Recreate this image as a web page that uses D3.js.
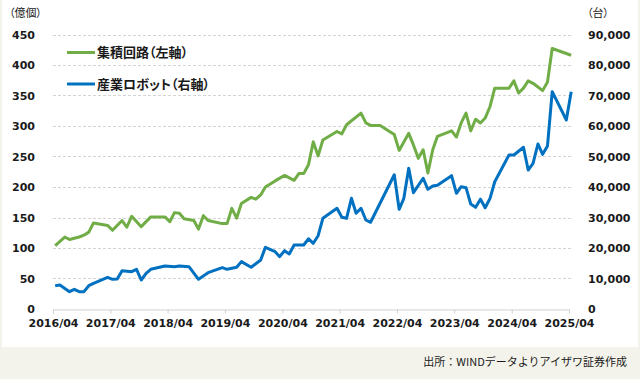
<!DOCTYPE html>
<html>
<head>
<meta charset="utf-8">
<script src="https://cdn.jsdelivr.net/npm/d3@7/dist/d3.min.js"></script>
<style>
    body { margin: 0; background: #f3f3eb; }
    svg { display: block; }
    text { fill: #1a1a1a; }
    .num { font-family: "DejaVu Sans", Verdana, sans-serif; font-weight: bold; font-size: 11px; }
    .jp { font-family: "Noto Sans CJK JP", sans-serif; font-feature-settings: "palt"; }
    .src { font-family: "Noto Sans CJK JP", sans-serif; }
</style>
</head>
<body>
<svg id="chart"></svg>
<script>

// 集積回路 (億個, left axis)
const icDates = ["2016-04", "2016-06", "2016-07", "2016-09", "2016-10", "2016-11", "2016-12",
    "2017-03", "2017-04", "2017-06", "2017-07", "2017-08", "2017-10", "2017-12",
    "2018-03", "2018-04", "2018-05", "2018-06", "2018-07", "2018-09", "2018-10", "2018-11", "2018-12",
    "2019-03", "2019-04", "2019-05", "2019-06", "2019-07", "2019-09", "2019-10", "2019-11", "2019-12",
    "2020-02", "2020-04", "2020-06", "2020-07", "2020-08", "2020-09", "2020-10", "2020-11", "2020-12",
    "2021-03", "2021-04", "2021-05", "2021-08", "2021-09", "2021-10", "2021-12",
    "2022-03", "2022-04", "2022-06", "2022-07", "2022-08", "2022-09", "2022-10", "2022-11", "2022-12",
    "2023-03", "2023-04", "2023-05", "2023-06", "2023-07", "2023-08", "2023-09", "2023-10", "2023-11", "2023-12",
    "2024-03", "2024-04", "2024-05", "2024-06", "2024-07", "2024-08", "2024-10", "2024-11", "2024-12",
    "2025-04"];
const icValues = [104, 118, 114, 118, 121, 126, 141,
    137, 129, 145, 134, 152, 135, 151,
    151, 143, 158, 157, 148, 145, 131, 153, 145,
    140, 140, 165, 149, 173, 183, 180, 187, 200,
    210, 219, 211, 222, 222, 237, 274, 251, 277,
    291, 287, 302, 321, 305, 301, 301,
    286, 260, 288, 269, 247, 261, 223, 261, 283,
    292, 282, 305, 321, 292, 311, 305, 313, 332, 362,
    362, 374, 354, 362, 374, 370, 358, 372, 427,
    416];

// 産業ロボット (台, right axis)
const robotDates = ["2016-04", "2016-05", "2016-07", "2016-08", "2016-09", "2016-10", "2016-11", "2016-12",
    "2017-03", "2017-04", "2017-05", "2017-06", "2017-08", "2017-09", "2017-10", "2017-11", "2017-12",
    "2018-03", "2018-05", "2018-06", "2018-08", "2018-10", "2018-12",
    "2019-03", "2019-04", "2019-06", "2019-07", "2019-09", "2019-11", "2019-12",
    "2020-02", "2020-03", "2020-04", "2020-05", "2020-06", "2020-08", "2020-09", "2020-10", "2020-11", "2020-12",
    "2021-03", "2021-04", "2021-05", "2021-06", "2021-07", "2021-08", "2021-09", "2021-10",
    "2022-03", "2022-04", "2022-05", "2022-06", "2022-07", "2022-09", "2022-10", "2022-11", "2022-12",
    "2023-03", "2023-04", "2023-05", "2023-06", "2023-07", "2023-08", "2023-09", "2023-10", "2023-11", "2023-12",
    "2024-03", "2024-04", "2024-06", "2024-07", "2024-08", "2024-09", "2024-10", "2024-11", "2024-12",
    "2025-03", "2025-04"];
const robotValues = [7640, 7870, 5680, 6440, 5680, 5680, 7640, 8410,
    10380, 9740, 9840, 12560, 12230, 13020, 9510, 11700, 13020,
    14100, 13870, 14100, 13870, 9740, 11900,
    13590, 13020, 13670, 15530, 13670, 16070, 20220,
    18790, 17160, 19120, 18030, 20980, 20980, 23030, 21540, 24030, 29740,
    33020, 30070, 29740, 36290, 31380, 33020, 29180, 28430,
    44020, 32680, 36290, 46130, 38130, 42860, 39250, 40330, 40560,
    43710, 37930, 40110, 39770, 34430, 33340, 36010, 33180, 36290, 41730,
    50500, 50500, 53020, 45570, 47770, 54100, 50710, 53450, 71250,
    61970, 71250];

const xTickLabels = ["2016/04", "2017/04", "2018/04", "2019/04", "2020/04",
    "2021/04", "2022/04", "2023/04", "2024/04", "2025/04"];
const leftTicks = [0, 50, 100, 150, 200, 250, 300, 350, 400, 450];
const rightTicks = [0, 10000, 20000, 30000, 40000, 50000, 60000, 70000, 80000, 90000];

const seriesNames = ["集積回路（左軸）", "産業ロボット（右軸）"];
const seriesColors = ["#70ad47", "#0070c0"];

const width = 640, height = 379;
const plot = {left: 53, right: 569, top: 34.5, bottom: 309};

const svg = d3.select("#chart")
    .attr("width", width)
    .attr("height", height);

// panel
svg.append("rect").attr("width", width).attr("height", height).attr("fill", "#f3f3eb");
svg.append("rect").attr("x", 2).attr("y", 0).attr("width", 636).attr("height", 347).attr("fill", "#ffffff");

const parseMonth = d3.timeParse("%Y-%m");
const parseTick = d3.timeParse("%Y/%m");
// monthly values sit in the middle of the month
const midMonth = s => d3.timeDay.offset(parseMonth(s), 14);

const x = d3.scaleTime()
    .domain([parseTick(xTickLabels[0]), parseTick(xTickLabels[xTickLabels.length - 1])])
    .range([plot.left, plot.right]);
const yLeft = d3.scaleLinear().domain([0, 450]).range([plot.bottom, plot.top]);
const yRight = d3.scaleLinear().domain([0, 90000]).range([plot.bottom, plot.top]);

// grid lines
svg.append("g")
    .selectAll("line")
    .data(leftTicks.filter(d => d > 0))
    .join("line")
    .attr("x1", plot.left)
    .attr("x2", plot.right + 3)
    .attr("y1", d => Math.round(yLeft(d)) + 0.5)
    .attr("y2", d => Math.round(yLeft(d)) + 0.5)
    .attr("stroke", "#d4d4d4")
    .attr("stroke-dasharray", "3,2");

// x axis
const xAxis = svg.append("g")
    .attr("transform", `translate(0,${plot.bottom + 0.5})`)
    .call(d3.axisBottom(x)
        .tickValues(xTickLabels.map(parseTick))
        .tickFormat(d3.timeFormat("%Y/%m"))
        .tickSize(4)
        .tickPadding(6));
xAxis.select(".domain").attr("stroke", "#d0d0d0");
xAxis.selectAll(".tick line").attr("stroke", "#d0d0d0");
xAxis.selectAll(".tick text").attr("class", "num").attr("fill", "#1a1a1a");

// left axis labels
const leftAxis = svg.append("g")
    .attr("transform", "translate(35,0)")
    .call(d3.axisLeft(yLeft).tickValues(leftTicks).tickSize(0).tickPadding(0));
leftAxis.select(".domain").remove();
leftAxis.selectAll(".tick text").attr("class", "num").attr("fill", "#1a1a1a");

// right axis labels
const rightAxis = svg.append("g")
    .attr("transform", "translate(588,0)")
    .call(d3.axisRight(yRight).tickValues(rightTicks).tickSize(0).tickPadding(0)
        .tickFormat(d3.format(",")));
rightAxis.select(".domain").remove();
rightAxis.selectAll(".tick text").attr("class", "num").attr("fill", "#1a1a1a");

// units
svg.append("text").attr("class", "jp").attr("x", 9).attr("y", 17)
    .style("font-size", "11px").text("（億個）");
svg.append("text").attr("class", "jp").attr("x", 587).attr("y", 17)
    .style("font-size", "11px").text("（台）");

// lines
const lineLeft = d3.line()
    .x(d => x(midMonth(d[0])))
    .y(d => yLeft(d[1]));
const lineRight = d3.line()
    .x(d => x(midMonth(d[0])))
    .y(d => yRight(d[1]));

svg.append("path")
    .datum(d3.zip(robotDates, robotValues))
    .attr("d", lineRight)
    .attr("fill", "none")
    .attr("stroke", seriesColors[1])
    .attr("stroke-width", 3)
    .attr("stroke-linejoin", "round");

svg.append("path")
    .datum(d3.zip(icDates, icValues))
    .attr("d", lineLeft)
    .attr("fill", "none")
    .attr("stroke", seriesColors[0])
    .attr("stroke-width", 3)
    .attr("stroke-linejoin", "round");

// legend
const legend = svg.append("g");
seriesNames.forEach((name, i) => {
    let ly = 52.5 + i * 31.5;
    legend.append("line")
        .attr("x1", 67).attr("x2", 95)
        .attr("y1", ly).attr("y2", ly)
        .attr("stroke", seriesColors[i])
        .attr("stroke-width", 3);
    legend.append("text")
        .attr("class", "jp")
        .attr("x", 97)
        .attr("y", ly)
        .attr("dy", "0.35em")
        .style("font-size", "13px")
        .style("font-weight", "bold")
        .text(name);
});

// source
svg.append("text")
    .attr("class", "src")
    .attr("x", 627)
    .attr("y", 366)
    .attr("text-anchor", "end")
    .style("font-size", "11px")
    .attr("fill", "#333333")
    .text("出所：WINDデータよりアイザワ証券作成");

</script>
</body>
</html>
